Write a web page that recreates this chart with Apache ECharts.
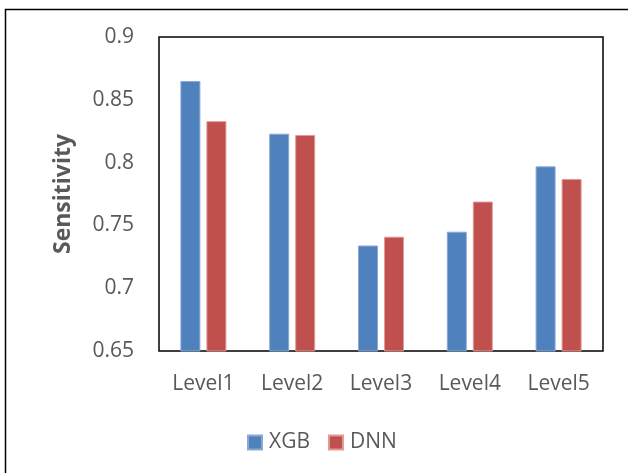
<!DOCTYPE html>
<html><head><meta charset="utf-8">
<script src="https://cdn.jsdelivr.net/npm/echarts@6/dist/echarts.min.js"></script>
<style>html,body{margin:0;padding:0;background:#fff}#c{width:628px;height:473px}</style>
</head><body><div id="c"></div>
<script>
const categories = ['Level1','Level2','Level3','Level4','Level5'];
const xgb = [0.865, 0.823, 0.734, 0.745, 0.797];
const dnn = [0.833, 0.822, 0.741, 0.769, 0.787];
const yTicks = [0.65, 0.7, 0.75, 0.8, 0.85, 0.9];
const seriesNames = ['XGB','DNN'];
const font = '"Open Sans", "Noto Sans", sans-serif';
const chart = echarts.init(document.getElementById('c'));
chart.setOption({
  animation: false,
  textStyle: {fontFamily: font},
  graphic: [{type:'rect', shape:{x:5.5,y:9.5,width:640,height:480}, style:{fill:'none', stroke:'#000', lineWidth:1.5}, silent:true}],
  grid: {left:159, right:25, top:37, bottom:122, show:true, borderColor:'#000', borderWidth:1.5, backgroundColor:'transparent'},
  legend: {data: seriesNames, top: 427, left: 242, itemWidth: 14, itemHeight: 14, itemGap: 18,
    textStyle: {fontSize: 21, color:'#595959', fontFamily: font, padding:[0,0,0,2]}, icon: 'rect'},
  xAxis: {type:'category', data: categories, axisLine:{show:false}, axisTick:{show:false},
    axisLabel:{fontSize:21, color:'#595959', margin:23, fontFamily: font}},
  yAxis: {type:'value', min: yTicks[0], max: yTicks[yTicks.length-1], interval: 0.05,
    name:'Sensitivity', nameLocation:'middle', nameGap:84, nameRotate:90,
    nameTextStyle:{fontSize:23, fontWeight:'bold', color:'#595959', fontFamily: font},
    axisLine:{show:false}, axisTick:{show:false}, splitLine:{show:false},
    axisLabel:{fontSize:21, color:'#595959', margin:25, fontFamily: font,
      formatter: v => String(parseFloat(v.toFixed(2)))}},
  series: [
    {name: seriesNames[0], type:'bar', data: xgb, barWidth: 20, barGap:'30%',
      itemStyle:{color:'#4F81BD', borderColor:'#8aaad4', borderWidth:1}},
    {name: seriesNames[1], type:'bar', data: dnn, barWidth: 20, barGap:'30%',
      itemStyle:{color:'#C0504D', borderColor:'#e09a98', borderWidth:1}}
  ]
});
</script></body></html>
